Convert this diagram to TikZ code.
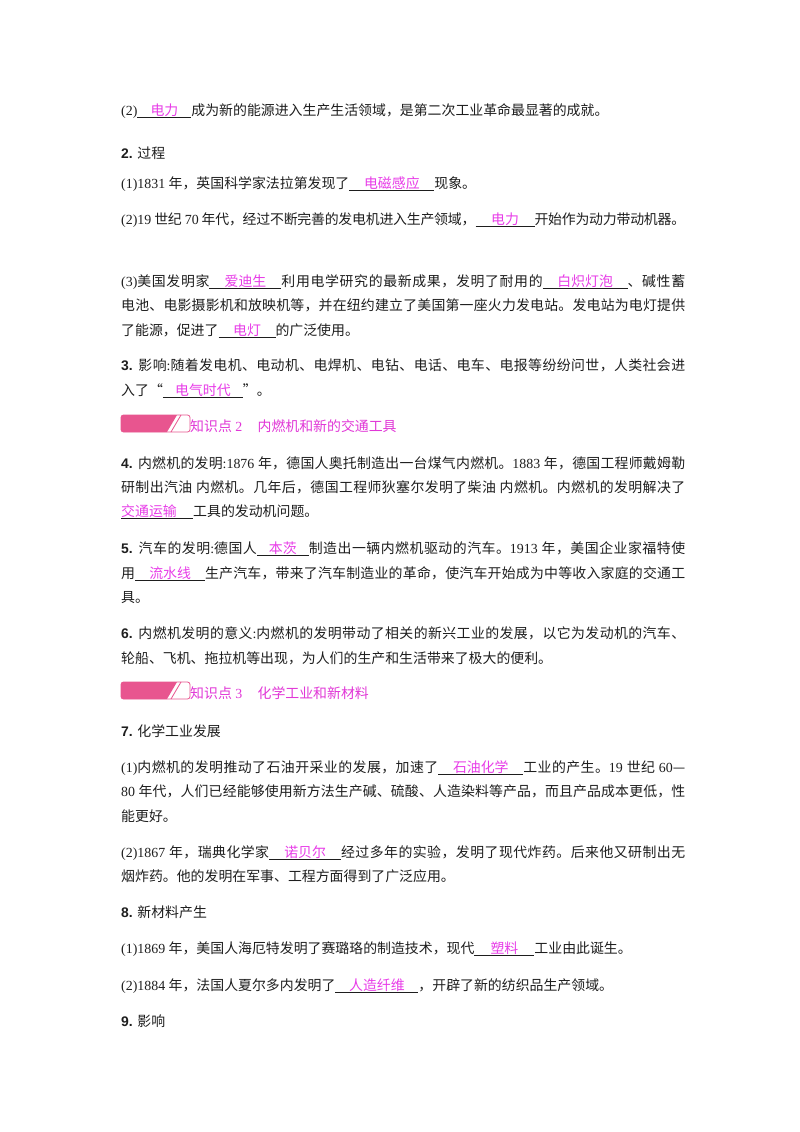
\documentclass[tikz,border=0pt]{standalone}
\usepackage{fontspec}
\setmainfont{Liberation Serif}
\newfontfamily\cjkfont{Noto Sans CJK SC}
\newfontfamily\numfont{Liberation Sans}
\definecolor{txt}{RGB}{30,30,30}
\definecolor{ansc}{RGB}{232,60,232}
\definecolor{hdc}{RGB}{225,55,215}
\definecolor{barpink}{RGB}{232,85,143}
\XeTeXinterchartokenstate=1
\newXeTeXintercharclass\CJKcls
\newcount\cjkcc
\cjkcc="4E00
\loop\ifnum\cjkcc<"A000 \XeTeXcharclass\cjkcc=\CJKcls \advance\cjkcc by 1 \repeat
\cjkcc="3000
\loop\ifnum\cjkcc<"3040 \XeTeXcharclass\cjkcc=\CJKcls \advance\cjkcc by 1 \repeat
\cjkcc="FF00
\loop\ifnum\cjkcc<"FFF0 \XeTeXcharclass\cjkcc=\CJKcls \advance\cjkcc by 1 \repeat
\XeTeXcharclass"2014=\CJKcls
\XeTeXcharclass"201C=\CJKcls
\XeTeXcharclass"201D=\CJKcls
\XeTeXinterchartoks 0 \CJKcls = {\cjkfont}
\XeTeXinterchartoks 4095 \CJKcls = {\cjkfont}
\XeTeXinterchartoks \CJKcls 0 = {\rmfamily}
\XeTeXinterchartoks \CJKcls 4095 = {\rmfamily}
\XeTeXinterchartoks \CJKcls \CJKcls = {\hskip0pt plus 2pt minus 0.5pt}
\newcommand\ans[2]{\leavevmode\rlap{\color{txt}\rule[-2.6pt]{#1pt}{0.6pt}}\makebox[#1pt]{\color{ansc}#2}}
\newcommand\secnum[1]{{\numfont\bfseries #1}}
\newcommand\jl[1]{\makebox[564pt][s]{#1}}
\tikzset{
  line/.style={anchor=base west, inner sep=0pt, text=txt, font=\fontsize{13.9}{16}\selectfont},
  hdtext/.style={anchor=base west, inner sep=0pt, text=hdc, font=\fontsize{13.9}{16}\selectfont},
}
\begin{document}
\begin{tikzpicture}[x=1pt,y=-1pt]
\useasboundingbox[fill=white] (0,0) rectangle (800,1132);
\node[line] (l1) at (121,115) {(2)\ans{54}{电力}成为新的能源进入生产生活领域，是第二次工业革命最显著的成就。};
\node[line] (l2) at (121,158) {\secnum{2.} 过程};
\node[line] (l3) at (121,188) {(1)1831 年，英国科学家法拉第发现了\ans{85}{电磁感应}现象。};
\node[line] (l4) at (121,224) {\jl{(2)19 世纪 70 年代，经过不断完善的发电机进入生产领域，\ans{59}{电力}开始作为动力带动机器。}};
\node[line] (l5) at (121,286) {\jl{(3)美国发明家\ans{72}{爱迪生}利用电学研究的最新成果，发明了耐用的\ans{85}{白炽灯泡}、碱性蓄}};
\node[line] (l6) at (121,310) {\jl{电池、电影摄影机和放映机等，并在纽约建立了美国第一座火力发电站。发电站为电灯提供}};
\node[line] (l7) at (121,335) {了能源，促进了\ans{57}{电灯}的广泛使用。};
\node[line] (l8) at (121,370) {\jl{\secnum{3.} 影响:随着发电机、电动机、电焊机、电钻、电话、电车、电报等纷纷问世，人类社会进}};
\node[line] (l9) at (121,395) {入了“\ans{80}{电气时代}”。};
% header 1
\fill[barpink] (177,415) [rounded corners=2.5pt] -- (121,415) -- (121,432) [sharp corners] -- (167,432) -- cycle;
\draw[barpink, line width=0.8pt, rounded corners=2.5pt] (121,415) rectangle (190,432);
\draw[barpink, line width=0.8pt] (181,415) -- (171,432);
\node[hdtext] (h1) at (190,431) {知识点 2\hspace{1.1em}内燃机和新的交通工具};
\node[line] (l11) at (121,468) {\jl{\secnum{4.} 内燃机的发明:1876 年，德国人奥托制造出一台煤气内燃机。1883 年，德国工程师戴姆勒}};
\node[line] (l12) at (121,492) {\jl{研制出汽油 内燃机。几年后，德国工程师狄塞尔发明了柴油 内燃机。内燃机的发明解决了}};
\node[line] (l13) at (121,516) {\ans{72}{\makebox[72pt][l]{交通运输}}工具的发动机问题。};
\node[line] (l14) at (121,553) {\jl{\secnum{5.} 汽车的发明:德国人\ans{52}{本茨}制造出一辆内燃机驱动的汽车。1913 年，美国企业家福特使}};
\node[line] (l15) at (121,578) {\jl{用\ans{70}{流水线}生产汽车，带来了汽车制造业的革命，使汽车开始成为中等收入家庭的交通工}};
\node[line] (l16) at (121,602) {具。};
\node[line] (l17) at (121,638) {\jl{\secnum{6.} 内燃机发明的意义:内燃机的发明带动了相关的新兴工业的发展，以它为发动机的汽车、}};
\node[line] (l18) at (121,663) {轮船、飞机、拖拉机等出现，为人们的生产和生活带来了极大的便利。};
% header 2
\fill[barpink] (177,682) [rounded corners=2.5pt] -- (121,682) -- (121,699) [sharp corners] -- (167,699) -- cycle;
\draw[barpink, line width=0.8pt, rounded corners=2.5pt] (121,682) rectangle (190,699);
\draw[barpink, line width=0.8pt] (181,682) -- (171,699);
\node[hdtext] (h2) at (190,698) {知识点 3\hspace{1.1em}化学工业和新材料};
\node[line] (l20) at (121,736) {\secnum{7.} 化学工业发展};
\node[line] (l21) at (121,772) {\jl{(1)内燃机的发明推动了石油开采业的发展，加速了\ans{85}{石油化学}工业的产生。19 世纪 60—}};
\node[line] (l22) at (121,796) {\jl{80 年代，人们已经能够使用新方法生产碱、硫酸、人造染料等产品，而且产品成本更低，性}};
\node[line] (l23) at (121,821) {能更好。};
\node[line] (l24) at (121,857) {\jl{(2)1867 年，瑞典化学家\ans{72}{诺贝尔}经过多年的实验，发明了现代炸药。后来他又研制出无}};
\node[line] (l25) at (121,881) {烟炸药。他的发明在军事、工程方面得到了广泛应用。};
\node[line] (l26) at (121,917) {\secnum{8.} 新材料产生};
\node[line] (l27) at (121,953) {(1)1869 年，美国人海厄特发明了赛璐珞的制造技术，现代\ans{60}{塑料}工业由此诞生。};
\node[line] (l28) at (121,990) {(2)1884 年，法国人夏尔多内发明了\ans{83}{人造纤维}，开辟了新的纺织品生产领域。};
\node[line] (l29) at (121,1026) {\secnum{9.} 影响};
\end{tikzpicture}
\end{document}
